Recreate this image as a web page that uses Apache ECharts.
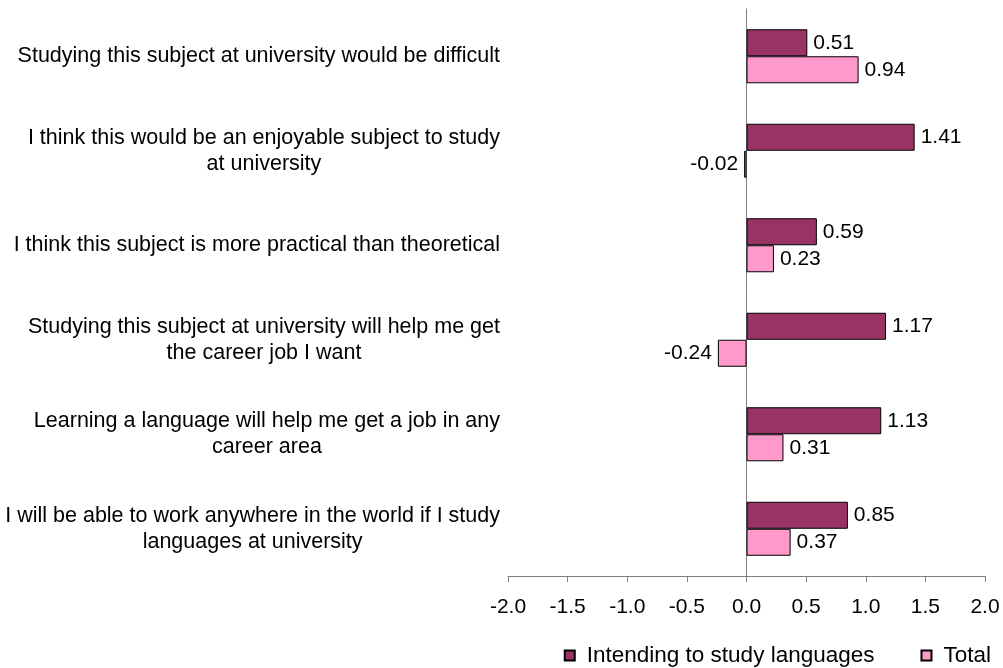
<!DOCTYPE html>
<html>
<head>
<meta charset="utf-8">
<script src="https://cdn.jsdelivr.net/npm/echarts@6/dist/echarts.min.js"></script>
<style>
  html, body { margin: 0; padding: 0; background: #ffffff; }
  #chart { width: 1003px; height: 668px; }
</style>
</head>
<body>
<div id="chart"></div>
<script>
// Statements, top to bottom
const categories = [
  'Studying this subject at university would be difficult',
  'I think this would be an enjoyable subject to study\nat university',
  'I think this subject is more practical than theoretical',
  'Studying this subject at university will help me get\nthe career job I want',
  'Learning a language will help me get a job in any\ncareer area',
  'I will be able to work anywhere in the world if I study\nlanguages at university'
];
const seriesNames = ['Intending to study languages', 'Total'];
const intendingValues = [0.51, 1.41, 0.59, 1.17, 1.13, 0.85];
const totalValues = [0.94, -0.02, 0.23, -0.24, 0.31, 0.37];
const xTicks = [-2.0, -1.5, -1.0, -0.5, 0.0, 0.5, 1.0, 1.5, 2.0];

const FONT = 'Liberation Sans, Arial, sans-serif';
const AXIS_GRAY = '#808080';
const FS = 21;
const CAT_FS = 21.5;

// each value gets its label on the outer end of its bar
function toItems(values) {
  return values.map(v => ({
    value: v,
    label: { position: v < 0 ? 'left' : 'right' }
  }));
}

// centre every line of a wrapped label within its own block
function centredLabel(text) {
  return text.split('\n').map(line => '{c|' + line + '}').join('\n');
}

const chart = echarts.init(document.getElementById('chart'), null, { renderer: 'canvas' });

const barLabel = {
  show: true,
  distance: 6,
  fontSize: FS,
  color: '#000000',
  fontFamily: FONT,
  formatter: p => p.value.toFixed(2)
};

chart.setOption({
  backgroundColor: '#ffffff',
  animation: false,
  textStyle: { fontFamily: FONT },
  grid: { left: 508, right: 18, top: 9, bottom: 92, containLabel: false },
  legend: {
    top: 644,
    right: 12,
    padding: 0,
    itemWidth: 10,
    itemHeight: 10,
    itemGap: 46,
    icon: 'rect',
    textStyle: { fontSize: 22.5, color: '#000000', fontFamily: FONT, padding: [0, 0, 0, 7] },
    data: seriesNames
  },
  xAxis: {
    type: 'value',
    min: xTicks[0],
    max: xTicks[xTicks.length - 1],
    interval: 0.5,
    axisLine: { show: true, onZero: false, lineStyle: { color: AXIS_GRAY, width: 1 } },
    axisTick: { show: true, length: 6, lineStyle: { color: AXIS_GRAY } },
    axisLabel: {
      fontSize: FS,
      color: '#000000',
      margin: 21,
      fontFamily: FONT,
      formatter: v => v.toFixed(1)
    },
    splitLine: { show: false }
  },
  yAxis: [
    {
      type: 'category',
      inverse: true,
      data: categories,
      position: 'left',
      axisLine: { show: false, onZero: false },
      axisTick: { show: false },
      axisLabel: {
        fontSize: CAT_FS,
        color: '#000000',
        fontFamily: FONT,
        align: 'right',
        margin: 8,
        lineHeight: 26,
        formatter: centredLabel,
        rich: { c: { align: 'center', fontSize: CAT_FS, color: '#000000', fontFamily: FONT, lineHeight: 26 } }
      }
    },
    {
      type: 'category',
      inverse: true,
      data: categories,
      axisLine: { show: true, onZero: true, lineStyle: { color: AXIS_GRAY, width: 1 } },
      axisTick: { show: false },
      axisLabel: { show: false }
    }
  ],
  series: [
    {
      name: seriesNames[0],
      type: 'bar',
      yAxisIndex: 0,
      data: toItems(intendingValues),
      barWidth: 27,
      barGap: '0%',
      itemStyle: { color: '#993366', borderColor: '#000000', borderWidth: 1 },
      label: barLabel
    },
    {
      name: seriesNames[1],
      type: 'bar',
      yAxisIndex: 0,
      data: toItems(totalValues),
      barWidth: 27,
      barGap: '0%',
      itemStyle: { color: '#FF99CC', borderColor: '#000000', borderWidth: 1 },
      label: barLabel
    }
  ]
});
</script>
</body>
</html>
